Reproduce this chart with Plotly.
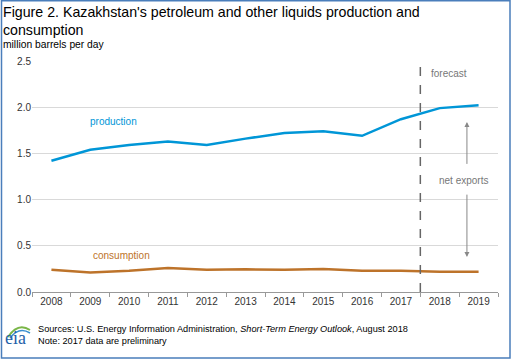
import plotly.graph_objects as go

years = ["2008", "2009", "2010", "2011", "2012", "2013", "2014", "2015", "2016", "2017", "2018", "2019"]
production = [1.42, 1.54, 1.59, 1.63, 1.59, 1.66, 1.72, 1.74, 1.69, 1.87, 1.99, 2.02]
consumption = [0.24, 0.21, 0.23, 0.26, 0.24, 0.245, 0.24, 0.25, 0.23, 0.23, 0.22, 0.22]
y_ticks = [0.0, 0.5, 1.0, 1.5, 2.0, 2.5]

BLUE = "#0096d7"
BROWN = "#bd732a"
FONT = "Liberation Sans, Arial, sans-serif"

PW, PH = 466, 231  # plot area size in px
def px(x):
    return (x - 32) / PW
def py(y):
    return (292 - y) / PH

fig = go.Figure()
fig.add_trace(go.Scatter(x=years, y=production, mode="lines",
                         line=dict(color=BLUE, width=2.5), hoverinfo="skip"))
fig.add_trace(go.Scatter(x=years, y=consumption, mode="lines",
                         line=dict(color=BROWN, width=2.5), hoverinfo="skip"))

fig.update_layout(
    width=512, height=360,
    margin=dict(l=32, r=14, t=61, b=68),
    paper_bgcolor="white", plot_bgcolor="white",
    showlegend=False,
    font=dict(family=FONT, size=10, color="#333333"),
    xaxis=dict(type="category", range=[-0.5, 11.5], tickson="boundaries",
               ticks="outside", ticklen=4, tickcolor="#999999",
               showline=True, linecolor="#999999", linewidth=1,
               showgrid=False, tickfont=dict(size=10, color="#333333"),
               fixedrange=True),
    yaxis=dict(range=[0, 2.5], tickvals=y_ticks, tickformat=".1f",
               showgrid=True, gridcolor="#d9d9d9", gridwidth=1,
               zeroline=False, showline=False, ticks="",
               tickfont=dict(size=10, color="#333333"), fixedrange=True),
)

# forecast divider
fig.add_shape(type="line", xref="x", yref="y", x0=9.5, x1=9.5, y0=0, y1=2.5,
              line=dict(color="#666666", width=1.5, dash="dash"))

# net exports arrows
fig.add_annotation(xref="x", yref="y", x=10.7, y=1.84, ax=10.7, ay=1.37,
                   axref="x", ayref="y", showarrow=True, arrowhead=2,
                   arrowsize=1, arrowwidth=1, arrowcolor="#888888", text="")
fig.add_annotation(xref="x", yref="y", x=10.7, y=0.38, ax=10.7, ay=1.07,
                   axref="x", ayref="y", showarrow=True, arrowhead=2,
                   arrowsize=1, arrowwidth=1, arrowcolor="#888888", text="")

fig.add_annotation(xref="x", yref="y", x=1.6, y=1.85, text="production", showarrow=False,
                   font=dict(family=FONT, size=10, color=BLUE))
fig.add_annotation(xref="x", yref="y", x=1.8, y=0.4, text="consumption", showarrow=False,
                   font=dict(family=FONT, size=10, color=BROWN))
fig.add_annotation(xref="x", yref="y", x=10.25, y=2.36, text="forecast", showarrow=False,
                   font=dict(family=FONT, size=10, color="#777777"))
fig.add_annotation(xref="x", yref="y", x=10.62, y=1.21, text="net exports", showarrow=False,
                   font=dict(family=FONT, size=10, color="#777777"))

# title and subtitle
fig.add_annotation(xref="paper", yref="paper", xanchor="left", yanchor="top",
                   x=px(1), y=py(2), align="left", showarrow=False,
                   text="Figure 2. Kazakhstan's petroleum and other liquids production and<br>consumption",
                   font=dict(family=FONT, size=14.2, color="#000000"))
fig.add_annotation(xref="paper", yref="paper", xanchor="left", yanchor="top",
                   x=px(1), y=py(37), align="left", showarrow=False,
                   text="million barrels per day",
                   font=dict(family=FONT, size=10.3, color="#000000"))

# footer
fig.add_annotation(xref="paper", yref="paper", xanchor="left", yanchor="top",
                   x=px(36), y=py(322), align="left", showarrow=False,
                   text="Sources: U.S. Energy Information Administration, <i>Short-Term Energy Outlook</i>, August 2018<br>Note: 2017 data are preliminary",
                   font=dict(family=FONT, size=9.2, color="#000000"))
# eia logo
fig.add_annotation(xref="paper", yref="paper", xanchor="left", yanchor="top",
                   x=px(3), y=py(326), showarrow=False, text="eia",
                   font=dict(family="Liberation Serif, serif", size=18, color="#1f5fa8"))
fig.add_shape(type="path", xref="paper", yref="paper",
              path=f"M {px(8)} {py(337)} Q {px(18)} {py(322)} {px(30)} {py(330)}",
              line=dict(color="#7ab648", width=2))
fig.add_shape(type="path", xref="paper", yref="paper",
              path=f"M {px(10)} {py(338)} Q {px(19)} {py(326)} {px(30)} {py(333)}",
              line=dict(color="#3a8fd0", width=1.5))

# border
fig.add_shape(type="rect", xref="paper", yref="paper",
              x0=px(1.5), x1=px(510), y0=py(358), y1=py(0.8),
              line=dict(color="#4a7ebb", width=1.5))

fig.write_html("out.html", config={"displayModeBar": False},
               post_script="document.body.style.margin='0';document.body.style.padding='0';")
